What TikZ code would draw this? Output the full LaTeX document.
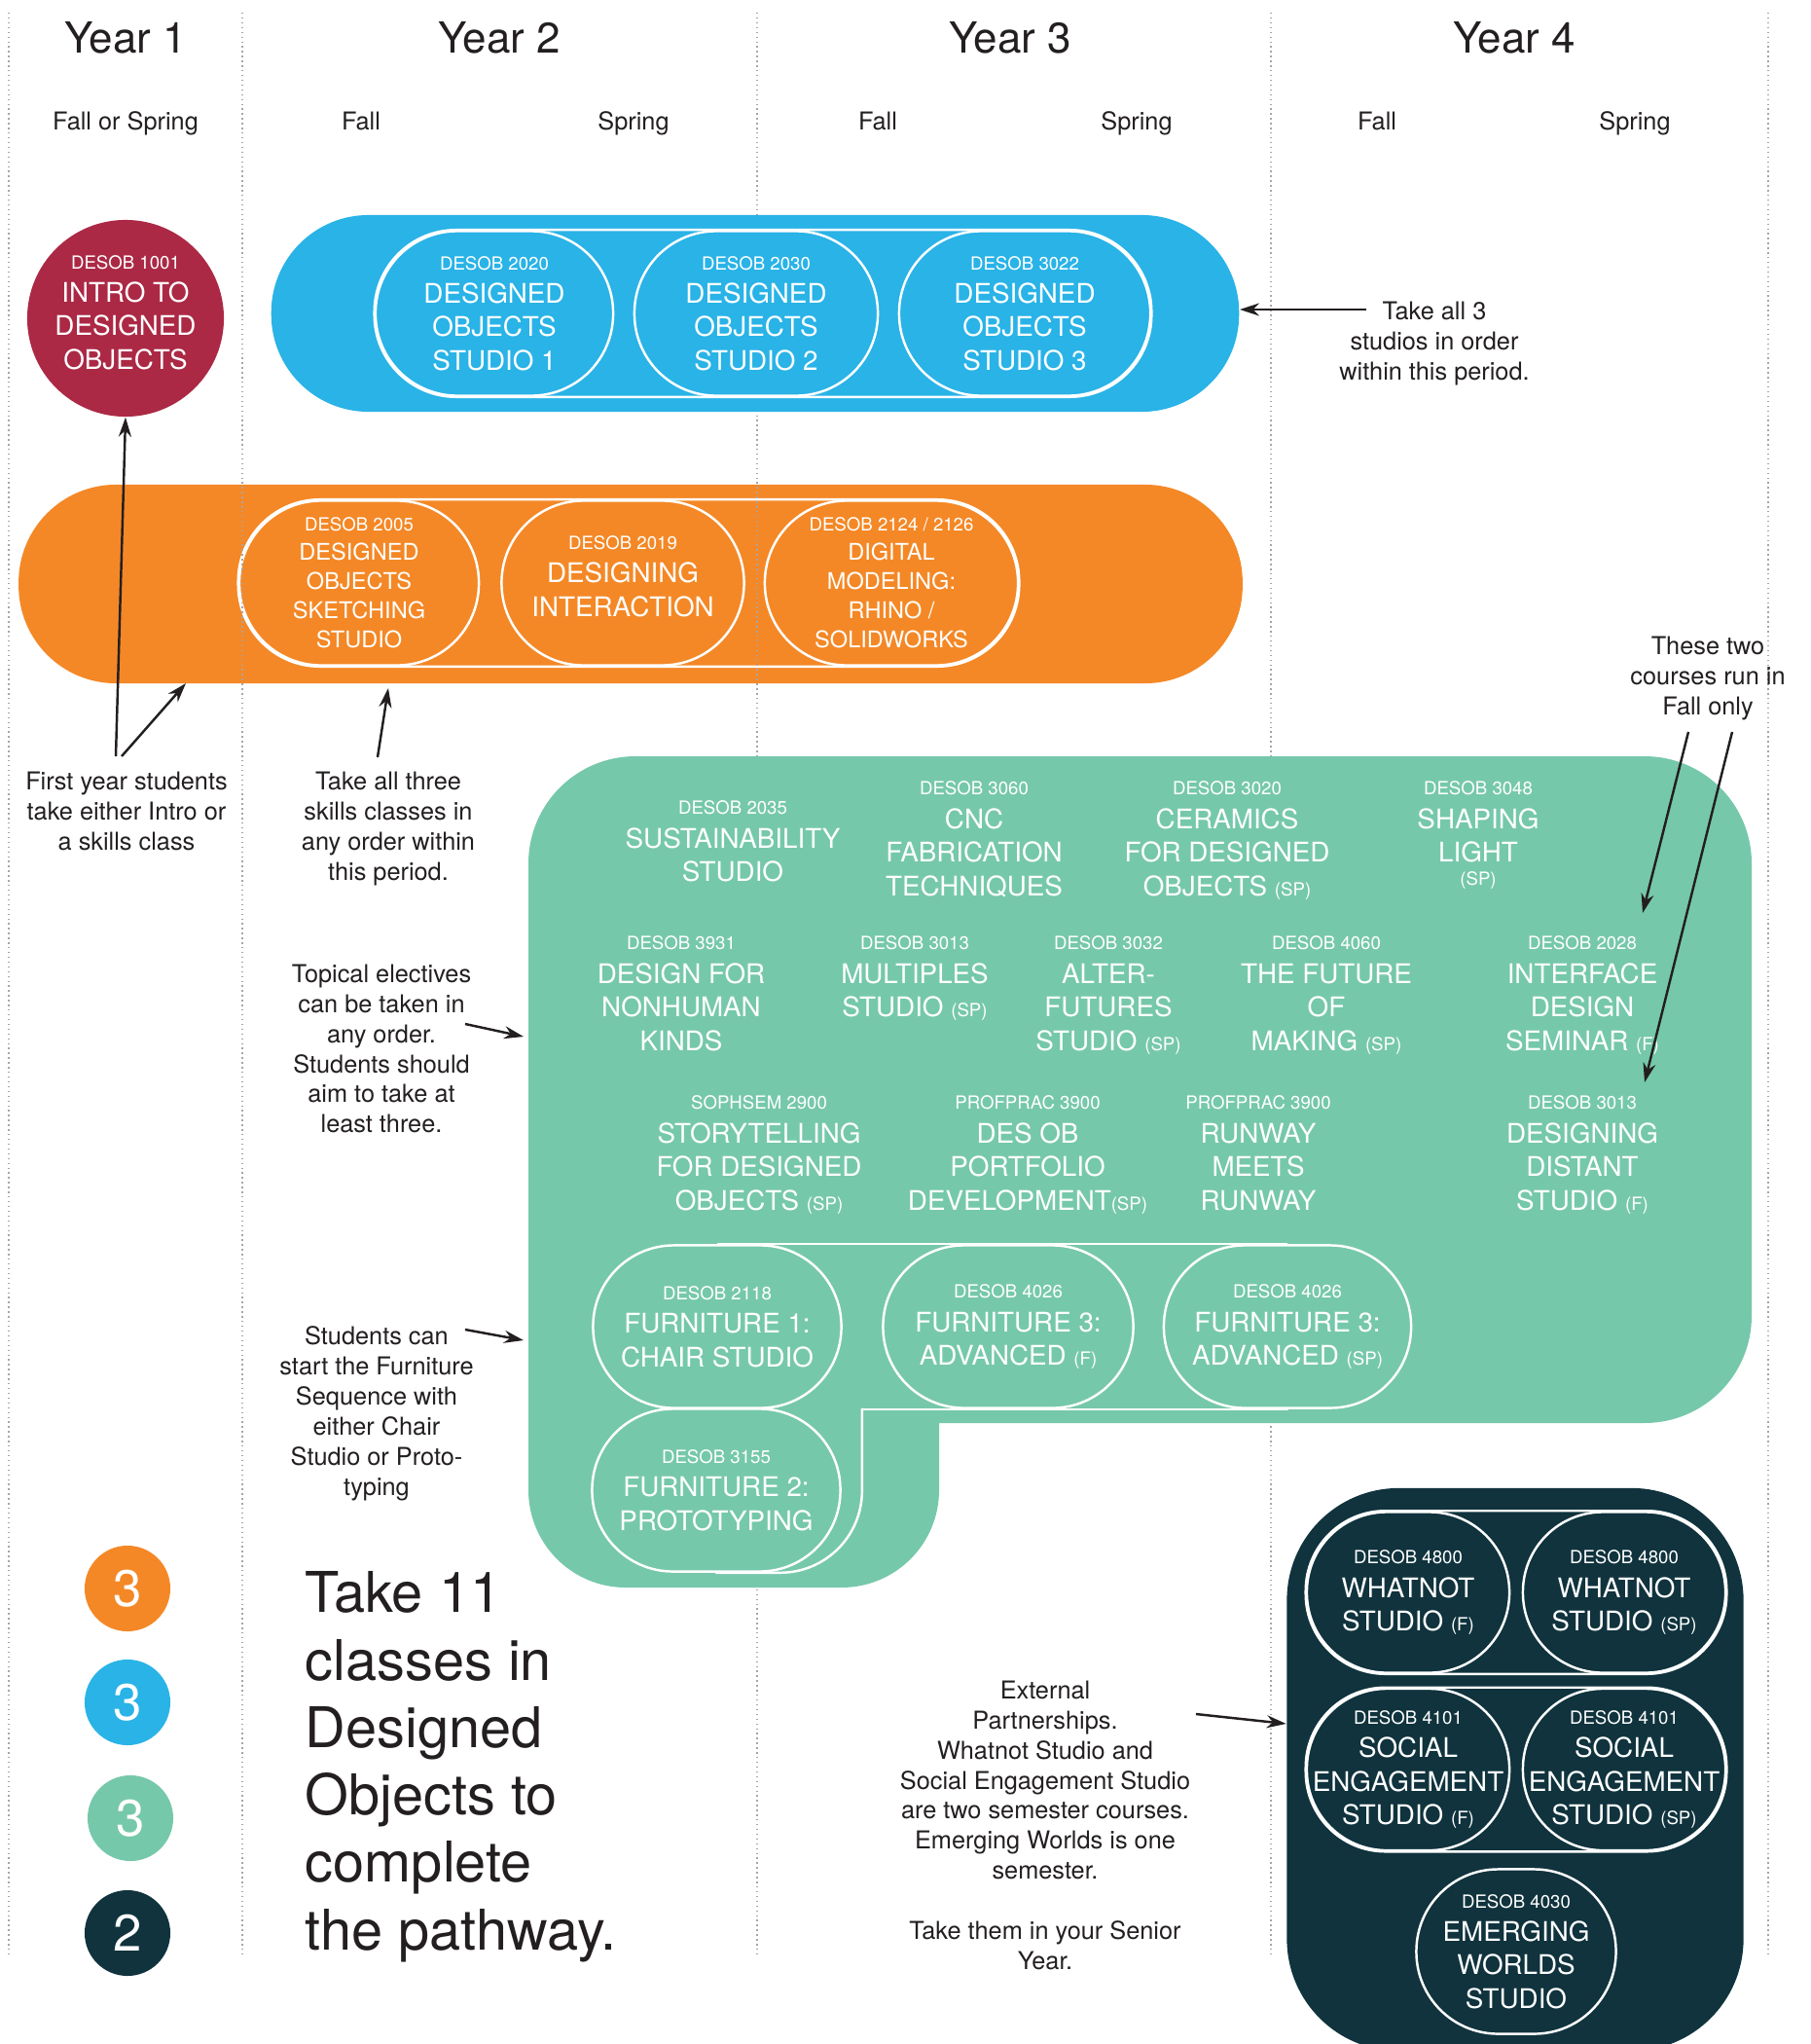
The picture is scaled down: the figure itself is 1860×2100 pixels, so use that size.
\documentclass[tikz,border=0pt]{standalone}
\usepackage{fontspec}
\setmainfont{TeX Gyre Heros}
\usetikzlibrary{arrows.meta}

\definecolor{dsblue}{RGB}{41,179,231}
\definecolor{dsorange}{RGB}{244,136,38}
\definecolor{dsgreen}{RGB}{118,200,171}
\definecolor{dsnavy}{RGB}{16,51,61}
\definecolor{dsred}{RGB}{171,41,69}
\definecolor{ink}{RGB}{35,31,32}

\newcommand{\coursefont}{\fontsize{7.9}{9.8}\selectfont}
\newcommand{\smallcourse}{\fontsize{6.7}{8.5}\selectfont}
\newcommand{\notefont}{\fontsize{7.2}{8.8}\selectfont}
\newcommand{\ccode}[1]{{\fontsize{5.3}{9.8}\selectfont #1}}
\newcommand{\semtag}[1]{{\fontsize{5.3}{9.8}\selectfont (#1)}}

\begin{document}
\begin{tikzpicture}[x=0.01cm, y=-0.01cm,
	pill/.style={rounded corners=1cm, inner sep=0pt},
	course/.style={draw=white, line width=0.7pt, rounded corners=0.84cm, minimum width=2.5cm, minimum height=1.69cm, inner sep=0pt, align=center, text=white, font=\coursefont},
	grpline/.style={draw=white, line width=0.7pt, rounded corners=0.84cm},
	elective/.style={anchor=north, align=center, text=white, font=\coursefont, inner sep=0pt},
	note/.style={anchor=north, align=center, text=ink, font=\notefont, inner sep=0pt},
	notearrow/.style={draw=ink, line width=0.7pt, -{Stealth[length=2mm, width=1.3mm]}},
	term/.style={anchor=base, text=ink, font=\notefont, inner sep=0pt},
	yearhead/.style={anchor=base, text=ink, font=\fontsize{12.5}{15}\selectfont, inner sep=0pt},
	legend/.style={circle, minimum size=0.88cm, inner sep=0pt, text=white, font=\fontsize{15}{18}\selectfont},
	gridline/.style={draw=gray!70, densely dotted, line width=0.4pt}
]
\fill[white] (0,0) rectangle (1860,2100);
\useasboundingbox (0,0) rectangle (1860,2100);

% skills classes
\node[pill, fill=dsorange, minimum width=12.57cm, minimum height=2.04cm] (skills) at (648,600) {};
\node[course, font=\smallcourse, minimum width=2.46cm] (sk1) at (369,599) {\ccode{DESOB 2005}\\DESIGNED\\OBJECTS\\SKETCHING\\STUDIO};
\node[course, minimum width=2.49cm] (sk2) at (640,599) {};
\node[align=center, text=white, font=\coursefont, inner sep=0pt] (sk2text) at ([yshift=0.07cm]sk2.center) {\ccode{DESOB 2019}\\DESIGNING\\INTERACTION};
\node[course, font=\smallcourse, minimum width=2.6cm] (sk3) at (916,599) {\ccode{DESOB 2124 / 2126}\\DIGITAL\\MODELING:\\RHINO /\\SOLIDWORKS};
\draw[grpline] (sk1.north west) rectangle (sk3.south east);

\foreach \x in {9,249,778,1306,1817}{
	\draw[gridline] (\x,13) -- (\x,2008);
}

\foreach [count=\i] \x/\t in {129/Year 1,513/Year 2,1038/Year 3,1556/Year 4}{
	\node[yearhead] (year\i) at (\x,55) {\t};
}
\foreach [count=\i] \x/\t in {129/Fall or Spring,371/Fall,651/Spring,902/Fall,1168/Spring,1415/Fall,1680/Spring}{
	\node[term] (term\i) at (\x,134) {\t};
}

% intro
\node[circle, fill=dsred, minimum size=2.02cm, inner sep=0pt] (intro) at (129,327) {};
\node[align=center, text=white, font=\coursefont, inner sep=0pt] (introtext) at ([yshift=0.06cm]intro.center) {\ccode{DESOB 1001}\\INTRO TO\\DESIGNED\\OBJECTS};

% studios
\node[pill, fill=dsblue, minimum width=9.94cm, minimum height=2.02cm] (studios) at (776,322) {};
\node[course, minimum width=2.44cm] (ds1) at (508,322) {\ccode{DESOB 2020}\\DESIGNED\\OBJECTS\\STUDIO 1};
\node[course, minimum width=2.5cm] (ds2) at (777,322) {\ccode{DESOB 2030}\\DESIGNED\\OBJECTS\\STUDIO 2};
\node[course, minimum width=2.58cm] (ds3) at (1053,322) {\ccode{DESOB 3022}\\DESIGNED\\OBJECTS\\STUDIO 3};
\draw[grpline] (ds1.north west) rectangle (ds3.south east);

% topical electives
\fill[dsgreen, rounded corners=1.1cm] (543,777) rectangle (1800,1462);
\fill[dsgreen, rounded corners=1cm] (543,1200) rectangle (965,1631);

\node[elective] (el2035) at (753,822) {\ccode{DESOB 2035}\\SUSTAINABILITY\\STUDIO};
\node[elective] (el3060) at (1001,802) {\ccode{DESOB 3060}\\CNC\\FABRICATION\\TECHNIQUES};
\node[elective] (el3020) at (1261,802) {\ccode{DESOB 3020}\\CERAMICS\\FOR DESIGNED\\OBJECTS \semtag{SP}};
\node[elective] (el3048) at (1519,802) {\ccode{DESOB 3048}\\SHAPING\\LIGHT\\[-3pt]\semtag{SP}};

\node[elective] (el3931) at (700,961) {\ccode{DESOB 3931}\\DESIGN FOR\\NONHUMAN\\KINDS};
\node[elective] (el3013) at (940,961) {\ccode{DESOB 3013}\\MULTIPLES\\STUDIO \semtag{SP}};
\node[elective] (el3032) at (1139,961) {\ccode{DESOB 3032}\\ALTER-\\FUTURES\\STUDIO \semtag{SP}};
\node[elective] (el4060) at (1363,961) {\ccode{DESOB 4060}\\THE FUTURE\\OF\\MAKING \semtag{SP}};
\node[elective] (el2028) at (1626,961) {\ccode{DESOB 2028}\\INTERFACE\\DESIGN\\SEMINAR \semtag{F}};

\node[elective] (el2900) at (780,1125) {\ccode{SOPHSEM 2900}\\STORYTELLING\\FOR DESIGNED\\OBJECTS \semtag{SP}};
\node[elective] (el3900a) at (1056,1125) {\ccode{PROFPRAC 3900}\\DES OB\\PORTFOLIO\\DEVELOPMENT\semtag{SP}};
\node[elective] (el3900b) at (1293,1125) {\ccode{PROFPRAC 3900}\\RUNWAY\\MEETS\\RUNWAY};
\node[elective] (el3013b) at (1626,1125) {\ccode{DESOB 3013}\\DESIGNING\\DISTANT\\STUDIO \semtag{F}};

% furniture sequence
\node[course, minimum width=2.55cm, minimum height=1.67cm, rounded corners=0.83cm] (fu1) at (737,1363) {\ccode{DESOB 2118}\\FURNITURE 1:\\CHAIR STUDIO};
\node[course, minimum width=2.55cm, minimum height=1.67cm, rounded corners=0.83cm] (fu2) at (736,1531) {\ccode{DESOB 3155}\\FURNITURE 2:\\PROTOTYPING};
\node[course, minimum width=2.57cm, minimum height=1.67cm, rounded corners=0.83cm] (fu3a) at (1036,1363) {\ccode{DESOB 4026}\\FURNITURE 3:\\ADVANCED \semtag{F}};
\node[course, minimum width=2.54cm, minimum height=1.67cm, rounded corners=0.83cm] (fu3b) at (1323,1363) {\ccode{DESOB 4026}\\FURNITURE 3:\\ADVANCED \semtag{SP}};
\coordinate (fbend) at ([xshift=0.21cm]fu2.east |- fu3b.south);
\draw[grpline] (fu1.north) -- (fu3b.north);
\draw[grpline, line cap=round] (fu3b.south) -- (fbend);
\draw[grpline, line cap=round, rounded corners=0.84cm] (fbend) -- (fbend |- fu2.south) -- (fu2.south);

% senior year
\node[pill, fill=dsnavy, rounded corners=1.15cm, minimum width=4.69cm, minimum height=5.78cm] (external) at (1557,1818) {};
\node[course, minimum width=2.08cm, minimum height=1.65cm, rounded corners=0.82cm] (wn1) at (1447,1636) {\ccode{DESOB 4800}\\WHATNOT\\STUDIO \semtag{F}};
\node[course, minimum width=2.08cm, minimum height=1.65cm, rounded corners=0.82cm] (wn2) at (1669,1636) {\ccode{DESOB 4800}\\WHATNOT\\STUDIO \semtag{SP}};
\node[course, minimum width=2.08cm, minimum height=1.66cm, rounded corners=0.82cm] (se1) at (1447,1818) {\ccode{DESOB 4101}\\SOCIAL\\ENGAGEMENT\\STUDIO \semtag{F}};
\node[course, minimum width=2.08cm, minimum height=1.66cm, rounded corners=0.82cm] (se2) at (1669,1818) {\ccode{DESOB 4101}\\SOCIAL\\ENGAGEMENT\\STUDIO \semtag{SP}};
\node[course, minimum width=2.05cm, minimum height=1.69cm, rounded corners=0.84cm] (ew) at (1558,2005) {\ccode{DESOB 4030}\\EMERGING\\WORLDS\\STUDIO};
\draw[grpline, rounded corners=0.82cm] (wn1.north west) rectangle (wn2.south east);
\draw[grpline, rounded corners=0.82cm] (se1.north west) rectangle (se2.south east);

% legend
\foreach [count=\i] \c/\n/\x/\y in {dsorange/3/131/1632,dsblue/3/131/1749,dsgreen/3/134/1868,dsnavy/2/131/1986}{
	\node[legend, fill=\c] (legend\i) at (\x,\y) {\n};
}
\node[anchor=north west, align=left, text=ink, inner sep=0pt, font=\fontsize{16.4}{19.7}\selectfont] (total) at (313,1614) {Take 11\\classes in\\Designed\\Objects to\\complete\\the pathway.};

% notes
\node[note] (takeall) at (1474,309) {Take all 3\\studios in order\\within this period.};
\node[note] (firstyear) at (130,792) {First year students\\take either Intro or\\a skills class};
\node[note] (takethree) at (399,792) {Take all three\\skills classes in\\any order within\\this period.};
\node[note] (topical) at (392,990) {Topical electives\\can be taken in\\any order.\\Students should\\aim to take at\\least three.};
\node[note] (furnnote) at (387,1362) {Students can\\start the Furniture\\Sequence with\\either Chair\\Studio or Proto-\\typing};
\node[note] (fallonly) at (1755,653) {These two\\courses run in\\Fall only};
\node[note] (partners) at (1074,1726) {External\\Partnerships.\\Whatnot Studio and\\Social Engagement Studio\\are two semester courses.\\Emerging Worlds is one\\semester.\\[8.8pt]Take them in your Senior\\Year.};

\coordinate (takeall tail) at (1404,318);
\coordinate (intro tail) at (119,777);
\coordinate (skills tail) at (125,777);
\coordinate (skills tip) at (191,702);
\coordinate (three tail) at (388,778);
\coordinate (three tip) at (399,707);
\coordinate (topical tail) at (478,1052);
\coordinate (topical tip) at (538,1065);
\coordinate (furn tail) at (478,1366);
\coordinate (furn tip) at (538,1377);
\coordinate (fall tail a) at (1735,752);
\coordinate (fall tip a) at (1688,938);
\coordinate (fall tail b) at (1780,752);
\coordinate (fall tip b) at (1690,1112);
\coordinate (partners tail) at (1229,1761);

\draw[notearrow] (takeall tail) -- (takeall tail -| studios.east);
\draw[notearrow] (intro tail) -- (intro.south);
\draw[notearrow] (skills tail) -- (skills tip);
\draw[notearrow] (three tail) -- (three tip);
\draw[notearrow] (topical tail) -- (topical tip);
\draw[notearrow] (furn tail) -- (furn tip);
\draw[notearrow] (fall tail a) -- (fall tip a);
\draw[notearrow] (fall tail b) -- (fall tip b);
\draw[notearrow] (partners tail) -- ([yshift=0.47cm]external.west);

\end{tikzpicture}
\end{document}
